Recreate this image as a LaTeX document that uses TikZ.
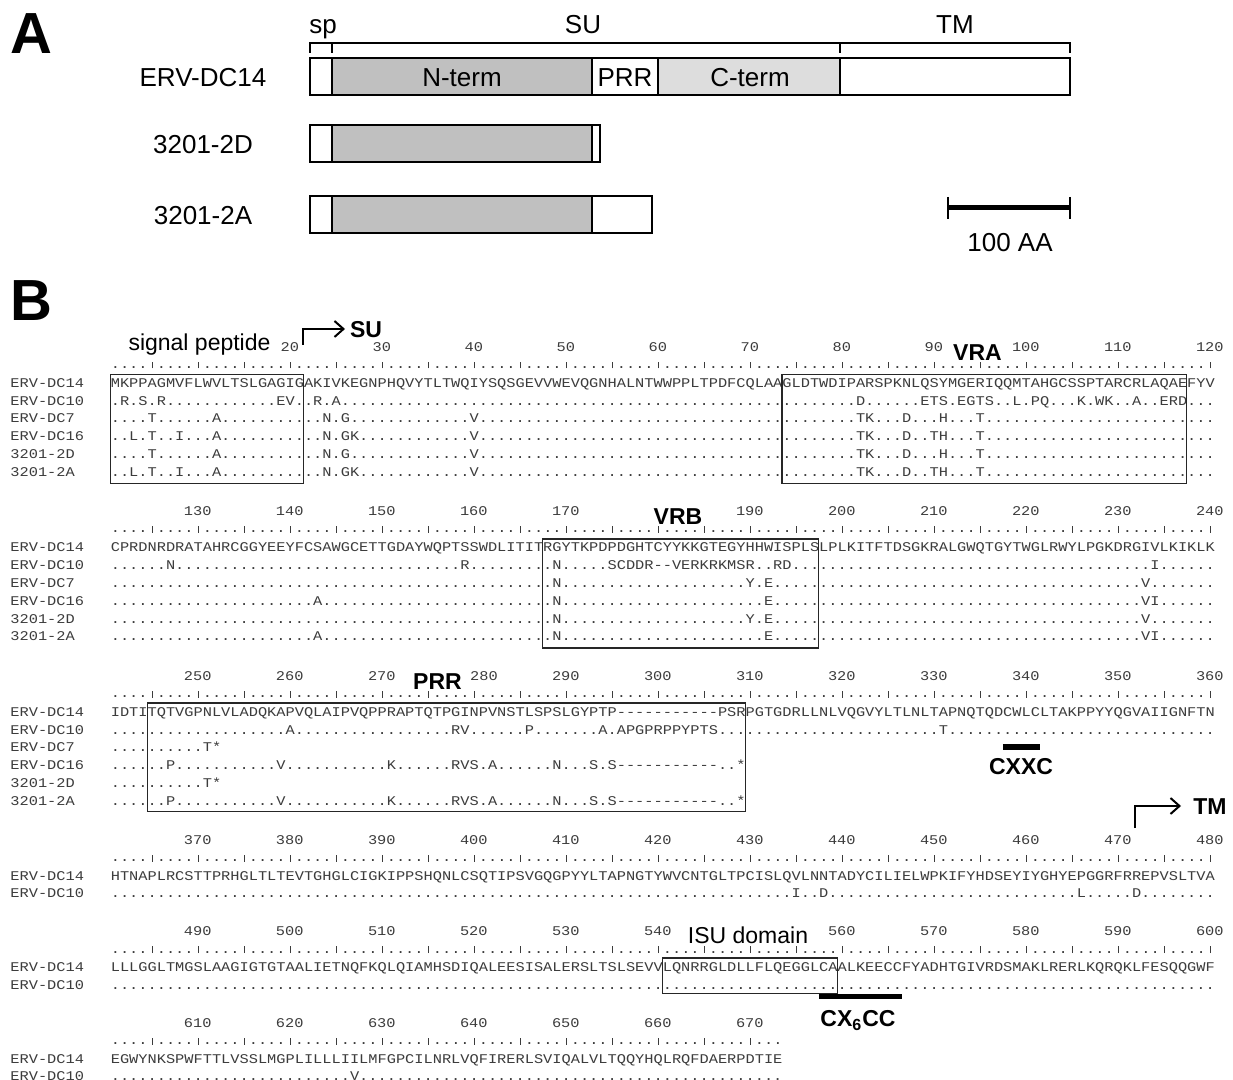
\documentclass[tikz,border=0pt]{standalone}
\usepackage{fontspec}
\usepackage{graphicx}
\setmainfont{Liberation Sans}
\newfontfamily\seqfont{Liberation Mono}
\usetikzlibrary{arrows.meta}
\ExplSyntaxOn
\cs_new:Npn \dts #1 { \prg_replicate:nn {#1} {.} }
\cs_new:Npn \gaps #1 { \prg_replicate:nn {#1} {\mbox{-}} }
\ExplSyntaxOff
\newcommand\sq[1]{\scalebox{1}[0.87]{#1}}
\newcommand\tk{\makebox[4.6pt][c]{\rule{0.5pt}{4pt}}}
\newcommand\rfive{....\tk}
\newcommand\rten{\rfive\rfive}
\newcommand\rfull{\rten\rten\rten\rten\rten\rten\rten\rten\rten\rten\rten\rten}
\newcommand\rlast{\rten\rten\rten\rten\rten\rten\rten...}
\definecolor{gN}{RGB}{192,192,192}
\definecolor{gC}{RGB}{221,221,221}
\definecolor{ink}{RGB}{60,60,60}
\newcommand\arow[4]{\node[seq] (#1l) at (10,#2) {\sq{#3}}; \node[seq] (#1) at (110.4,#2) {\sq{#4}};}
\begin{document}
\begin{tikzpicture}[x=0.5pt,y=-0.5pt,
  seq/.style={font=\seqfont\fontsize{7.667pt}{9pt}\selectfont, text=ink, inner sep=0pt, anchor=base west},
  num/.style={seq, anchor=base},
  lblA/.style={font=\fontsize{13pt}{15pt}\selectfont, inner sep=0pt, anchor=base},
  lblB/.style={font=\fontsize{11.5pt}{13pt}\selectfont\bfseries, inner sep=0pt, anchor=base},
  lblR/.style={font=\fontsize{11.5pt}{13pt}\selectfont, inner sep=0pt, anchor=base},
  panel/.style={font=\fontsize{29pt}{30pt}\selectfont\bfseries, inner sep=0pt, anchor=base west},
  brk/.style={line width=1pt, line cap=rect},
  seg/.style={draw=black, line width=1pt},
  alnbox/.style={draw=black!85, line width=0.65pt},
  motifbar/.style={line width=2.6pt},
  arr/.style={line width=1pt, -{Straight Barb[length=4.5pt,width=8pt]}}]
\useasboundingbox (0,0) rectangle (1233,1080);
\fill[white] (0,0) rectangle (1233,1080);
% ---------- Panel A ----------
\node[panel] (pA) at (10,54) {A};
\draw[brk] (310,52) -- (310,43) -- (1070,43) -- (1070,52);
\draw[brk] (332,43) -- (332,52);
\draw[brk] (840,43) -- (840,52);
\node[lblA] (tsp) at (323,34) {sp};
\node[lblA] (tsu) at (583,34) {SU};
\node[lblA] (ttm) at (955,34) {TM};
% bar 1
\filldraw[seg, fill=white] (310,58) rectangle (332,95);
\filldraw[seg, fill=gN] (332,58) rectangle (592,95);
\filldraw[seg, fill=white] (592,58) rectangle (658,95);
\filldraw[seg, fill=gC] (658,58) rectangle (840,95);
\filldraw[seg, fill=white] (840,58) rectangle (1070,95);
\node[lblA] (la1) at (203,86.5) {ERV-DC14};
\node[lblA] (nterm) at (462,86.5) {N-term};
\node[lblA] (prrA) at (625,86.5) {PRR};
\node[lblA] (cterm) at (750,86.5) {C-term};
% bar 2
\filldraw[seg, fill=white] (310,125) rectangle (332,162);
\filldraw[seg, fill=gN] (332,125) rectangle (592,162);
\filldraw[seg, fill=white] (592,125) rectangle (600,162);
\node[lblA] (la2) at (203,153.5) {3201-2D};
% bar 3
\filldraw[seg, fill=white] (310,196) rectangle (332,233);
\filldraw[seg, fill=gN] (332,196) rectangle (592,233);
\filldraw[seg, fill=white] (592,196) rectangle (652,233);
\node[lblA] (la3) at (203,224.5) {3201-2A};
% scale bar
\coordinate (sb1) at (948,208);
\coordinate (sb2) at (1070,208);
\draw[line width=2.5pt] (sb1) -- (sb2);
\draw[line width=1pt] (948,197) -- (948,219);
\draw[line width=1pt] (1070,197) -- (1070,219);
\node[lblA] (sbl) at (1010,252) {100 AA};
% ---------- Panel B ----------
\node[panel] (pB) at (10,321) {B};
% block 1
\node[lblR] (sigp) at (199.5,350.5) {signal peptide};
\foreach \c in {2,...,12}{\pgfmathtruncatemacro\lab{10*\c}\node[num] (na\c) at ({105.8+92*\c},351.4) {\sq{\lab}};}
\node[seq] (ru1) at (110.4,368.5) {\sq{\rfull}};
\arow{ra1}{387.4}{ERV-DC14}{MKPPAGMVFLWVLTSLGAGIGAKIVKEGNPHQVYTLTWQIYSQSGEVVWEVQGNHALNTWWPPLTPDFCQLAAGLDTWDIPARSPKNLQSYMGERIQQMTAHGCSSPTARCRLAQAEFYV}
\arow{ra2}{405.2}{ERV-DC10}{.R.S.R\dts{12}EV..R.A\dts{56}D\dts{6}ETS.EGTS..L.PQ...K.WK..A..ERD...}
\arow{ra3}{423.0}{ERV-DC7}{....T......A\dts{11}N.G\dts{13}V\dts{41}TK...D...H...T\dts{25}}
\arow{ra4}{440.8}{ERV-DC16}{..L.T..I...A\dts{11}N.GK\dts{12}V\dts{41}TK...D..TH...T\dts{25}}
\arow{ra5}{458.6}{3201-2D}{....T......A\dts{11}N.G\dts{13}V\dts{41}TK...D...H...T\dts{25}}
\arow{ra6}{476.4}{3201-2A}{..L.T..I...A\dts{11}N.GK\dts{12}V\dts{41}TK...D..TH...T\dts{25}}
\draw[alnbox] (110.4,374.5) rectangle (303.6,483.5);
\draw[alnbox] (782,374.5) rectangle (1186.8,483.5);
\node[lblB] (vra) at (977.5,361) {VRA};
\coordinate (suA) at (303,345);
\coordinate (suB) at (345,329);
\draw[arr] (suA) |- (suB);
\node[lblB] (suL) at (366,337.5) {SU};
% block 2
\foreach \c in {1,2,3,4,5,7,8,9,10,11,12}{\pgfmathtruncatemacro\lab{120+10*\c}\node[num] (nb\c) at ({105.8+92*\c},515.9) {\sq{\lab}};}
\node[seq] (ru2) at (110.4,533) {\sq{\rfull}};
\arow{rb1}{551.9}{ERV-DC14}{CPRDNRDRATAHRCGGYEEYFCSAWGCETTGDAYWQPTSSWDLITITRGYTKPDPDGHTCYYKKGTEGYHHWISPLSLPLKITFTDSGKRALGWQTGYTWGLRWYLPGKDRGIVLKIKLK}
\arow{rb2}{569.7}{ERV-DC10}{......N\dts{31}R\dts{9}N.....SCDDR\gaps{2}VERKRKMSR..RD\dts{39}I\dts{6}}
\arow{rb3}{587.5}{ERV-DC7}{\dts{48}N\dts{20}Y.E\dts{40}V\dts{7}}
\arow{rb4}{605.3}{ERV-DC16}{\dts{22}A\dts{25}N\dts{22}E\dts{40}VI\dts{6}}
\arow{rb5}{623.1}{3201-2D}{\dts{48}N\dts{20}Y.E\dts{40}V\dts{7}}
\arow{rb6}{640.9}{3201-2A}{\dts{22}A\dts{25}N\dts{22}E\dts{40}VI\dts{6}}
\draw[alnbox] (542.8,539) rectangle (818.8,648);
\node[lblB] (vrb) at (678,524.5) {VRB};
% block 3
\foreach \c in {1,2,3,5,6,7,8,9,10,11,12}{\pgfmathtruncatemacro\lab{240+10*\c}\node[num] (nc\c) at ({105.8+92*\c},680.4) {\sq{\lab}};}
\node[num] (nc4) at (484,680.4) {\sq{280}};
\node[seq] (ru3) at (110.4,697.5) {\sq{\rfull}};
\arow{rc1}{716.4}{ERV-DC14}{IDTITQTVGPNLVLADQKAPVQLAIPVQPPRAPTQTPGINPVNSTLSPSLGYPTP\gaps{11}PSRPGTGDRLLNLVQGVYLTLNLTAPNQTQDCWLCLTAKPPYYQGVAIIGNFTN}
\arow{rc2}{734.2}{ERV-DC10}{\dts{19}A\dts{17}RV\dts{6}P\dts{7}A.APGPRPPYPTS\dts{24}T\dts{29}}
\arow{rc3}{752.0}{ERV-DC7}{\dts{10}T*}
\arow{rc4}{769.8}{ERV-DC16}{\dts{6}P\dts{11}V\dts{11}K\dts{6}RVS.A\dts{6}N...S.S\gaps{11}..*}
\arow{rc5}{787.6}{3201-2D}{\dts{10}T*}
\arow{rc6}{805.4}{3201-2A}{\dts{6}P\dts{11}V\dts{11}K\dts{6}RVS.A\dts{6}N...S.S\gaps{11}..*}
\draw[alnbox] (147.2,703) rectangle (745.2,811.5);
\node[lblB] (prrB) at (437.5,689.5) {PRR};
\coordinate (cx1) at (1002.8,747);
\coordinate (cx2) at (1039.6,747);
\draw[motifbar] (cx1) -- (cx2);
\node[lblB] (cxxc) at (1021,774.5) {CXXC};
\coordinate (tmA) at (1135,828);
\coordinate (tmB) at (1181,806);
\draw[arr] (tmA) |- (tmB);
\node[lblB] (tmL) at (1210,814.5) {TM};
% block 4
\foreach \c in {1,...,12}{\pgfmathtruncatemacro\lab{360+10*\c}\node[num] (nd\c) at ({105.8+92*\c},844.4) {\sq{\lab}};}
\node[seq] (ru4) at (110.4,861.5) {\sq{\rfull}};
\arow{rd1}{880.4}{ERV-DC14}{HTNAPLRCSTTPRHGLTLTEVTGHGLCIGKIPPSHQNLCSQTIPSVGQGPYYLTAPNGTYWVCNTGLTPCISLQVLNNTADYCILIELWPKIFYHDSEYIYGHYEPGGRFRREPVSLTVA}
\arow{rd2}{897.6}{ERV-DC10}{\dts{74}I..D\dts{27}L.....D\dts{8}}
% block 5
\foreach \c in {1,2,3,4,5,6,8,9,10,11,12}{\pgfmathtruncatemacro\lab{480+10*\c}\node[num] (ne\c) at ({105.8+92*\c},935.9) {\sq{\lab}};}
\node[seq] (ru5) at (110.4,953) {\sq{\rfull}};
\arow{re1}{971.9}{ERV-DC14}{LLLGGLTMGSLAAGIGTGTAALIETNQFKQLQIAMHSDIQALEESISALERSLTSLSEVVLQNRRGLDLLFLQEGGLCAALKEECCFYADHTGIVRDSMAKLRERLKQRQKLFESQQGWF}
\arow{re2}{989.4}{ERV-DC10}{\dts{120}}
\draw[alnbox] (662.4,958) rectangle (837.2,993.5);
\node[lblR] (isu) at (748,943) {ISU domain};
\coordinate (cy1) at (818.8,996.5);
\coordinate (cy2) at (901.6,996.5);
\draw[motifbar] (cy1) -- (cy2);
\node[lblB] (cx6cc) at (858,1026.5) {CX\textsubscript{6}CC};
% block 6
\foreach \c in {1,...,7}{\pgfmathtruncatemacro\lab{600+10*\c}\node[num] (nf\c) at ({105.8+92*\c},1027.4) {\sq{\lab}};}
\node[seq] (ru6) at (110.4,1044.5) {\sq{\rlast}};
\arow{rf1}{1063.4}{ERV-DC14}{EGWYNKSPWFTTLVSSLMGPLILLLIILMFGPCILNRLVQFIRERLSVIQALVLTQQYHQLRQFDAERPDTIE}
\arow{rf2}{1080.8}{ERV-DC10}{\dts{26}V\dts{46}}
\end{tikzpicture}
\end{document}
